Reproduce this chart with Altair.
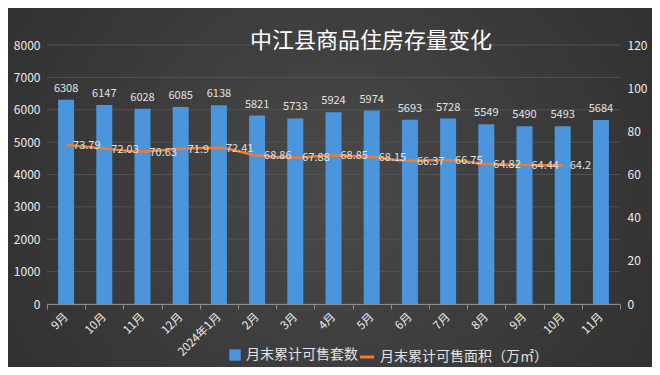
import json
import altair as alt
import pandas as pd

# ---- data ----
months = ["9月", "10月", "11月", "12月", "2024年1月", "2月", "3月", "4月",
          "5月", "6月", "7月", "8月", "9月", "10月", "11月"]
units = [6308, 6147, 6028, 6085, 6138, 5821, 5733, 5924, 5974, 5693, 5728,
         5549, 5490, 5493, 5684]
area = [73.79, 72.03, 70.63, 71.9, 72.41, 68.86, 67.88, 68.85, 68.15, 66.37,
        66.75, 64.82, 64.44, 64.2, None]
left_ticks = [0, 1000, 2000, 3000, 4000, 5000, 6000, 7000, 8000]
right_ticks = [0, 20, 40, 60, 80, 100, 120]
title_text = "中江县商品住房存量变化"
series_units = "月末累计可售套数"
series_area = "月末累计可售面积（万㎡）"

BLUE = "#4b95dd"
ORANGE = "#ED7D31"
LABEL = "#e2e2e2"
AXLABEL = "#ececec"
FONT = "Noto Sans CJK SC"

W, H = 573, 259
PAD = {"left": 39, "right": 32, "top": 37, "bottom": 63}

df = pd.DataFrame({
    "idx": list(range(len(months))),
    "units": units,
    "area": area,
    "s1": series_units,
    "s2": series_area,
})

label_expr = json.dumps(months, ensure_ascii=False) + "[datum.value]"

x_scale = alt.Scale(paddingInner=0, paddingOuter=0)
x_axis = alt.Axis(
    title=None, labelExpr=label_expr, labelAngle=-45, labelAlign="right",
    labelBaseline="middle", labelColor=AXLABEL, labelFontSize=11.5,
    labelPadding=6, tickBand="extent", tickSize=5, tickColor="#8c8c8c",
    domainColor="#8c8c8c", grid=False, labelFont=FONT, zindex=1,
    labelOverlap=False,
)
x_main = alt.X("idx:O", scale=x_scale, axis=x_axis)

# background
bg = alt.Chart(pd.DataFrame({"k": [0]})).mark_rect(
    fill=alt.RadialGradient(
        gradient="radial",
        stops=[alt.GradientStop(color="#4a4a4a", offset=0),
               alt.GradientStop(color="#2a2a2a", offset=1)],
        x1=0.5, y1=0.5, r1=0, x2=0.5, y2=0.5, r2=0.72,
    )
).encode(
    x=alt.value(-PAD["left"]), x2=alt.value(W + PAD["right"]),
    y=alt.value(-PAD["top"]), y2=alt.value(H + PAD["bottom"]),
)

title = alt.Chart(pd.DataFrame({"t": [title_text]})).mark_text(
    fontSize=22, color="#ffffff", align="center", baseline="middle", font=FONT
).encode(text="t:N", x=alt.value(324), y=alt.value(-4))

left_scale = alt.Scale(domain=[0, 8000], nice=False)
left_axis = alt.Axis(
    values=left_ticks, title=None, orient="left", domain=False, ticks=False,
    grid=False, labelColor=AXLABEL, labelFontSize=12, labelPadding=7,
    labelFont=FONT, zindex=1, format="d", labelOverlap=False,
)

grid = alt.Chart(pd.DataFrame({"v": left_ticks})).mark_rule(
    color="#525252", strokeWidth=1
).encode(y=alt.Y("v:Q", scale=left_scale, axis=left_axis))

bars = alt.Chart(df).mark_bar(size=16).encode(
    x=x_main,
    y=alt.Y("units:Q", scale=left_scale, axis=left_axis),
    color=alt.Color(
        "s1:N",
        scale=alt.Scale(domain=[series_units], range=[BLUE]),
        legend=alt.Legend(
            title=None, orient="none", legendX=181, legendY=303,
            symbolType="square", symbolSize=130, labelColor=LABEL,
            labelFontSize=14, labelFont=FONT, padding=0, symbolStrokeWidth=0,
            labelLimit=0,
        ),
    ),
)
bar_text = alt.Chart(df).mark_text(
    dy=-11, fontSize=11, color=LABEL, baseline="middle", font=FONT
).encode(
    x=x_main,
    y=alt.Y("units:Q", scale=left_scale, axis=left_axis),
    text=alt.Text("units:Q"),
)

left = alt.layer(grid, bars, bar_text)

right_scale = alt.Scale(domain=[0, 120], nice=False)
right_axis = alt.Axis(
    values=right_ticks, title=None, orient="right", domain=False,
    ticks=False, grid=False, labelColor=AXLABEL, labelFontSize=12,
    labelPadding=7, labelFont=FONT, zindex=1, format="d", labelOverlap=False,
)
y_right = alt.Y("area:Q", scale=right_scale, axis=right_axis)

line = alt.Chart(df).transform_filter("isValid(datum.area)").mark_line(
    strokeWidth=2.5, interpolate="monotone"
).encode(
    x=x_main,
    y=y_right,
    stroke=alt.Stroke(
        "s2:N",
        scale=alt.Scale(domain=[series_area], range=[ORANGE]),
        legend=alt.Legend(
            title=None, orient="none", legendX=311, legendY=303,
            symbolType="stroke", symbolSize=200, symbolStrokeWidth=3,
            labelColor=LABEL, labelFontSize=14, labelFont=FONT, padding=0,
            labelLimit=0,
        ),
    ),
)
line_text = alt.Chart(df).transform_filter("isValid(datum.area)").mark_text(
    dx=7, dy=1, fontSize=11, color=LABEL, align="left", baseline="middle",
    font=FONT,
).encode(x=x_main, y=y_right, text=alt.Text("area:Q"))

right = alt.layer(line, line_text)

chart = alt.layer(bg, left, right, title).resolve_scale(
    y="independent"
).properties(
    width=W, height=H,
    autosize=alt.AutoSizeParams(type="none"),
    padding=PAD,
    background="#2a2a2a",
).configure_view(stroke=None).configure(font=FONT)

chart.save("out.html", embed_options={"renderer": "svg", "actions": False})
